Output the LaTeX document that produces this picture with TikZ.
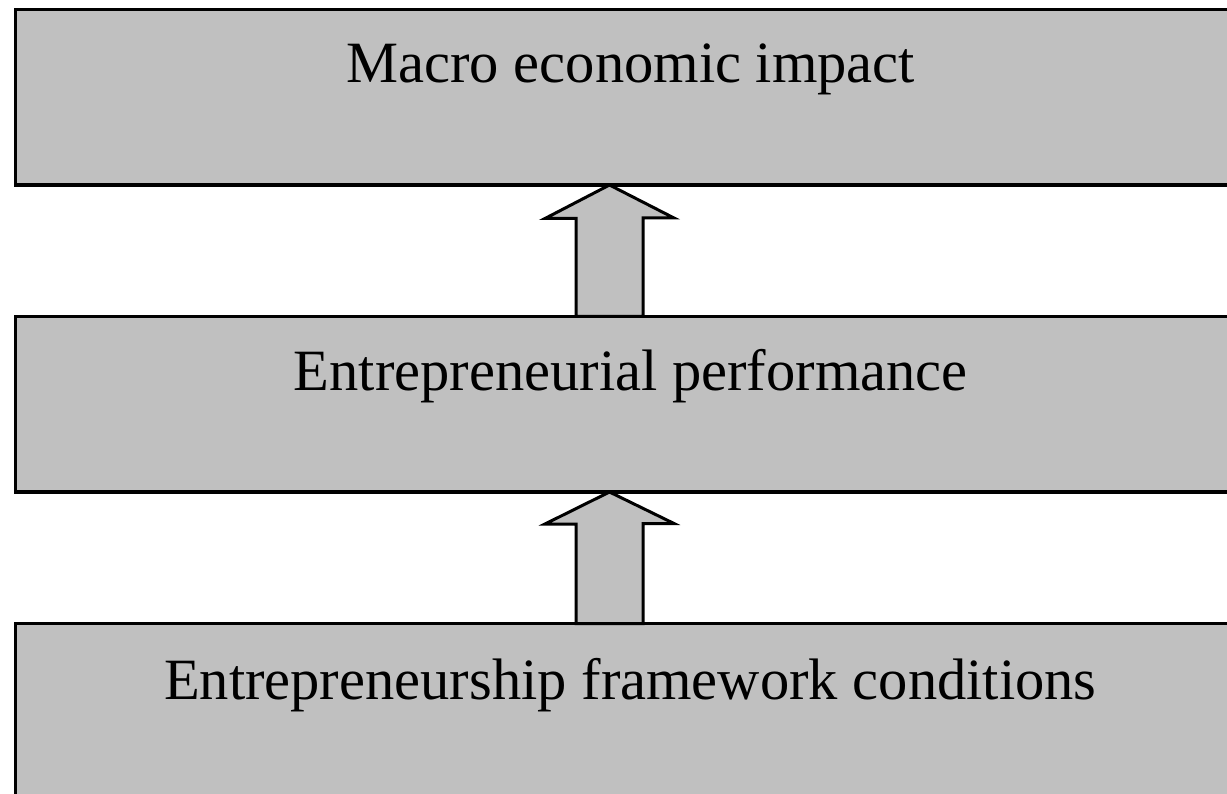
\documentclass[tikz,border=0pt]{standalone}
\usepackage{fontspec}
\setmainfont{Liberation Serif}
\usetikzlibrary{calc}
\definecolor{boxgray}{RGB}{192,192,192}
\begin{document}
\begin{tikzpicture}[x=1pt,y=-1pt,
  box/.style={draw=black, line width=3.2pt, fill=boxgray, minimum width=1229.5pt, minimum height=175.5pt, inner sep=0pt, outer sep=0pt},
  lbl/.style={anchor=base, font=\fontsize{58.5}{62}\selectfont, inner sep=0pt},
  blockarrow/.style={draw=black, line width=3pt, fill=boxgray, line join=miter}]
\useasboundingbox (0,0) rectangle (1227,794);
\node[box] (top) at (630.25,97.25) {};
\node[box] (mid) at (630.25,404.25) {};
\node[box] (bot) at (630.25,711.25) {};
\node[lbl] (ttop) at ($(top.north)+(0.5,73)$) {Macro economic impact};
\node[lbl] (tmid) at ($(mid.north)+(0.5,74)$) {Entrepreneurial performance};
\node[lbl] (tbot) at ($(bot.north)+(0,75.5)$) {Entrepreneurship framework conditions};
% arrow from mid to top
\coordinate (a1) at (609.5,0);
\draw[blockarrow] (top.south -| a1) -- ++(64.5,33) -- ++(-31,0) |- (mid.north -| a1) -| ++(-33.5,-98) -- ++(-31,0) -- cycle;
\draw[blockarrow] (mid.south -| a1) -- ++(64.5,31.5) -- ++(-31,0) |- (bot.north -| a1) -| ++(-33.5,-99.5) -- ++(-31,0) -- cycle;
\end{tikzpicture}
\end{document}
